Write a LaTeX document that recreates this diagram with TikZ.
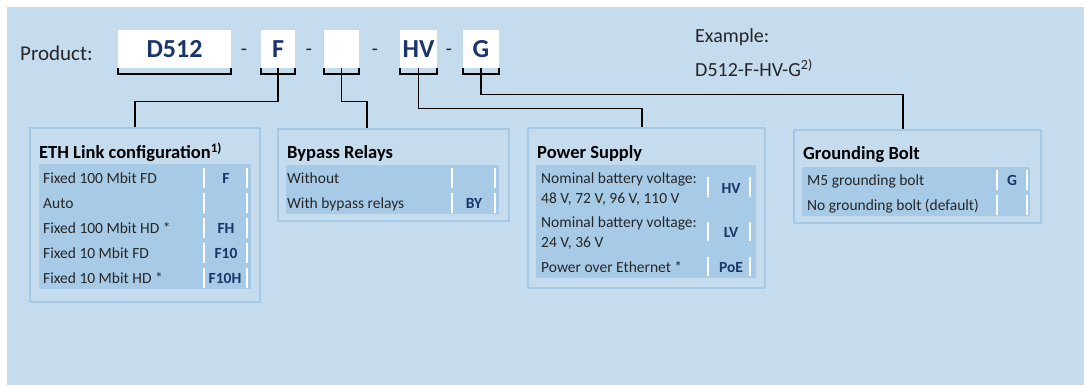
\documentclass[tikz,border=0pt]{standalone}
\usepackage{fontspec}
\setmainfont{Carlito}
\usetikzlibrary{calc}
\definecolor{panelblue}{HTML}{C5DBEE}
\definecolor{rowblue}{HTML}{A7CBE6}
\definecolor{edgeblue}{HTML}{A6C9E6}
\definecolor{codeblue}{HTML}{1A3668}
\definecolor{inkgray}{HTML}{262626}

\begin{document}
\begin{tikzpicture}[x=1pt,y=-1pt,
    seg/.style={fill=white,minimum height=38,inner sep=0,text=codeblue,font=\fontsize{26}{30}\selectfont\bfseries},
    bracket/.style={line width=1.8,black},
    link/.style={line width=1.2,black},
    group/.style={draw=edgeblue,line width=1.2,fill=panelblue,inner sep=0},
    head/.style={anchor=west,inner sep=0,text=black,font=\fontsize{18.5}{22}\selectfont\bfseries,text height=13,text depth=0},
    opt/.style={anchor=west,inner sep=0,text=inkgray,font=\fontsize{15.5}{19.5}\selectfont,text height=10.5,text depth=0},
    opttwo/.style={anchor=west,inner sep=0,text=inkgray,font=\fontsize{15.5}{19.5}\selectfont,align=left},
    code/.style={inner sep=0,text=codeblue,font=\fontsize{15.5}{19}\selectfont\bfseries,text height=10.5,text depth=0},
    divider/.style={white,line width=1.5},
    plain/.style={anchor=west,inner sep=0,text=inkgray,font=\fontsize{20}{24}\selectfont}]

  \useasboundingbox (0,0) rectangle (1084,385);
  \fill[panelblue] (7,7) rectangle (1084,385);

  % product code
  \node[plain,font=\fontsize{21}{25}\selectfont] (prod) at (20,53) {Product:};
  \node[seg,minimum width=113] (d512) at (174.5,49) {D512};
  \node[seg,minimum width=34] (f) at (278,49) {F};
  \node[seg,minimum width=35] (byp) at (341.5,49) {};
  \node[seg,minimum width=37] (hv) at (418.5,49) {HV};
  \node[seg,minimum width=36] (g) at (481,49) {G};
  \node[plain,anchor=center] (dash1) at (244,52) {-};
  \node[plain,anchor=center] (dash2) at (309,52) {-};
  \node[plain,anchor=center] (dash3) at (375,52) {-};
  \node[plain,anchor=center] (dash4) at (449,52) {-};

  \draw[bracket] (d512.south west) -- ++(0,6) -| (d512.south east);
  \draw[bracket] (f.south west) -- ++(0,6) -| (f.south east);
  \draw[bracket] (byp.south west) -- ++(0,6) -| (byp.south east);
  \draw[bracket] (hv.south west) -- ++(0,6) -| (hv.south east);
  \draw[bracket] (g.south west) -- ++(0,6) -| (g.south east);

  \node[plain] (exa) at (695,37) {Example:};
  \node[plain] (exb) at (695,68) {D512-F-HV-G\textsuperscript{2)}};

  % option groups
  \node[group,minimum width=230,minimum height=174] (eth) at (145,215) {};
  \node[group,minimum width=231,minimum height=92] (relay) at (393.5,175) {};
  \node[group,minimum width=237,minimum height=160] (power) at (646.5,208) {};
  \node[group,minimum width=247,minimum height=93] (ground) at (917.5,176.5) {};

  \draw[link] (f.south) -- ++(0,33) -| ([xshift=-10]eth.north);
  \draw[link] (byp.south) -- ++(0,33) -| ([xshift=-26.5]relay.north);
  \draw[link] (hv.south) -- ++(0,40) -| ([xshift=-4.5]power.north);
  \draw[link] (g.south) -- ++(0,26) -| ([xshift=-14.5]ground.north);

  % ETH link
  \node[head] (ethT) at (39,152) {ETH Link configuration\textsuperscript{1)}};
  \fill[rowblue] (39,164) rectangle (251,289);
  \foreach \y in {178,203,228,253,278} {
    \draw[divider] (204,\y-10) -- (204,\y+10);
    \draw[divider] (247,\y-10) -- (247,\y+10);
  }
  \node[opt] (e1) at (43,178) {Fixed 100 Mbit FD};
  \node[opt] (e2) at (43,203) {Auto};
  \node[opt] (e3) at (43,228) {Fixed 100 Mbit HD *};
  \node[opt] (e4) at (43,253) {Fixed 10 Mbit FD};
  \node[opt] (e5) at (43,278) {Fixed 10 Mbit HD *};
  \node[code] (c1) at (226,178) {F};
  \node[code] (c3) at (226,228) {FH};
  \node[code] (c4) at (226,253) {F10};
  \node[code] (c5) at (225,278) {F10H};

  % bypass relays
  \node[head] (relayT) at (287,152) {Bypass Relays};
  \fill[rowblue] (286,165) rectangle (499,214);
  \foreach \y in {178,203} {
    \draw[divider] (452,\y-10) -- (452,\y+10);
    \draw[divider] (495,\y-10) -- (495,\y+10);
  }
  \node[opt] (r1) at (287,178) {Without};
  \node[opt] (r2) at (287,203) {With bypass relays};
  \node[code] (by) at (474,203) {BY};

  % power supply
  \node[head] (powerT) at (537,152) {Power Supply};
  \fill[rowblue] (536,165) rectangle (756,278);
  \foreach \a/\b in {177/197,222/241,257/276} {
    \draw[divider] (708,\a) -- (708,\b);
    \draw[divider] (750,\a) -- (750,\b);
  }
  \node[opttwo] (p1) at (541,189) {Nominal battery voltage:\\48 V, 72 V, 96 V, 110 V};
  \node[opttwo] (p2) at (541,233) {Nominal battery voltage:\\24 V, 36 V};
  \node[opt] (p3) at (541,267) {Power over Ethernet *};
  \node[code] (hvc) at (731,188) {HV};
  \node[code] (lvc) at (731,232) {LV};
  \node[code] (poe) at (731,267) {PoE};

  % grounding bolt
  \node[head] (groundT) at (803,153) {Grounding Bolt};
  \fill[rowblue] (802,167) rectangle (1030,216);
  \foreach \y in {180,205} {
    \draw[divider] (997,\y-10) -- (997,\y+10);
    \draw[divider] (1027,\y-10) -- (1027,\y+10);
  }
  \node[opt] (g1) at (807,180) {M5 grounding bolt};
  \node[opt] (g2) at (807,205) {No grounding bolt (default)};
  \node[code] (gc) at (1012,180) {G};
\end{tikzpicture}
\end{document}
